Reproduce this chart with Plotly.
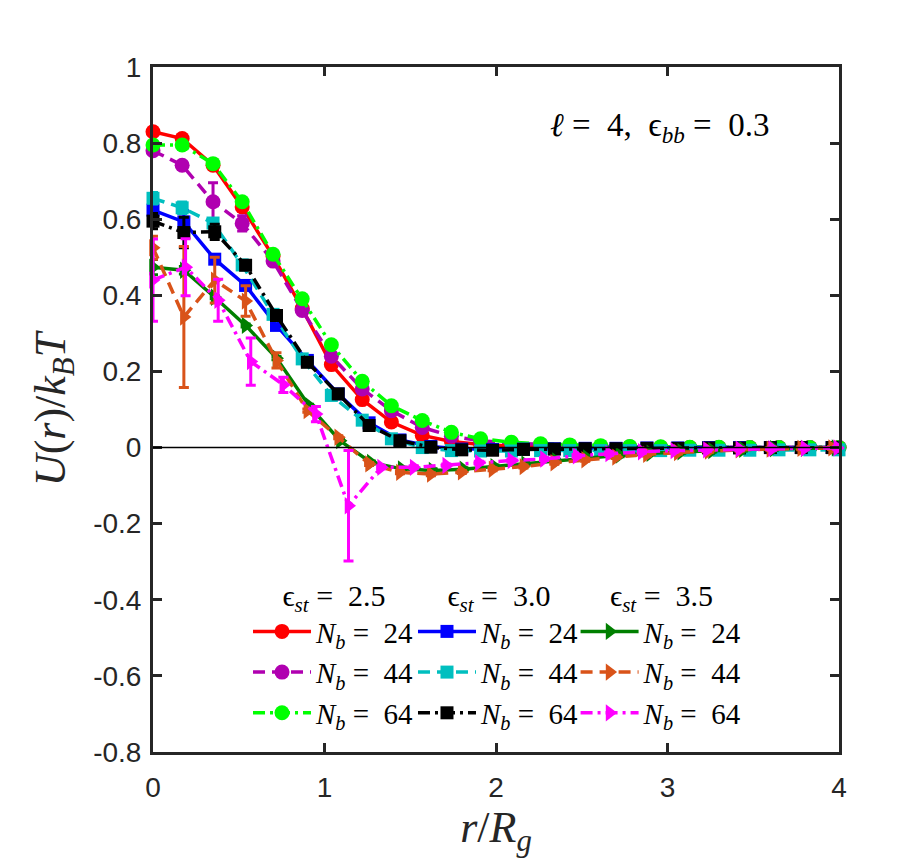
import plotly.graph_objects as go

# ---------------- data ----------------
X_A = [0, 0.17, 0.35, 0.52, 0.70, 0.87, 1.04, 1.22, 1.39, 1.57, 1.74, 1.91, 2.09, 2.26,
       2.43, 2.61, 2.78, 2.96, 3.13, 3.30, 3.48, 3.65, 3.83, 4.00]
X_B = [0, 0.18, 0.36, 0.54, 0.72, 0.90, 1.08, 1.26, 1.44, 1.62, 1.80, 1.98, 2.16, 2.34,
       2.52, 2.70, 2.88, 3.06, 3.24, 3.42, 3.60, 3.78, 3.96]
X_C = [0, 0.18, 0.36, 0.54, 0.72, 0.91, 1.09, 1.27, 1.45, 1.63, 1.81, 1.99, 2.17, 2.35,
       2.53, 2.72, 2.90, 3.08, 3.26, 3.44, 3.62, 3.80, 3.98]
X_D = [0, 0.19, 0.38, 0.57, 0.76, 0.95, 1.14, 1.33, 1.52, 1.71, 1.90, 2.09, 2.28, 2.47,
       2.66, 2.85, 3.04, 3.23, 3.42, 3.61, 3.80, 3.99]

# eps_st = 2.5
red_y = [0.830, 0.812, 0.742, 0.632, 0.503, 0.365, 0.218, 0.126, 0.067, 0.032, 0.016, 0.008,
         0.004, 0.002, 0.001, 0, 0, 0, 0, 0, 0, 0, 0, 0]
red_e = [0.01] + [0.004] * 23
purple_y = [0.780, 0.742, 0.646, 0.589, 0.490, 0.360, 0.240, 0.154, 0.097, 0.053, 0.030, 0.018,
            0.012, 0.008, 0.005, 0.003, 0.002, 0.001, 0, 0, 0, 0, 0, 0]
purple_e = [0.01, 0.01, 0.05, 0.02] + [0.004] * 20
lime_y = [0.795, 0.795, 0.746, 0.646, 0.508, 0.391, 0.270, 0.174, 0.110, 0.071, 0.040, 0.023,
          0.014, 0.010, 0.007, 0.005, 0.003, 0.002, 0.001, 0.001, 0, 0, 0, 0]
lime_e = [0.01] + [0.004] * 23

# eps_st = 3.0
blue_y = [0.624, 0.593, 0.495, 0.426, 0.321, 0.229, 0.141, 0.065, 0.020, 0.003, -0.004, -0.005,
          -0.004, -0.003, -0.002, -0.002, -0.001, -0.001, 0, 0, 0, 0, 0]
blue_e = [0.025, 0.03, 0.01] + [0.004] * 20
cyan_y = [0.655, 0.630, 0.590, 0.480, 0.350, 0.233, 0.137, 0.072, 0.023, 0.000, -0.008, -0.009,
          -0.009, -0.008, -0.008, -0.008, -0.008, -0.008, -0.007, -0.007, -0.007, -0.006, -0.006, -0.006]
cyan_e = [0.015, 0.015] + [0.004] * 22
black_y = [0.595, 0.565, 0.567, 0.479, 0.347, 0.224, 0.141, 0.058, 0.018, 0.001, -0.006, -0.007,
           -0.005, -0.004, -0.003, -0.003, -0.002, -0.002, -0.001, -0.001, 0, 0, 0]
black_e = [0.02, 0.04, 0.02] + [0.004] * 20

# eps_st = 3.5
dgreen_y = [0.474, 0.466, 0.395, 0.321, 0.235, 0.110, 0.018, -0.039, -0.056, -0.060, -0.057, -0.050,
            -0.043, -0.035, -0.027, -0.020, -0.015, -0.011, -0.008, -0.005, -0.003, -0.002, -0.001]
dgreen_e = [0.02, 0.01] + [0.004] * 21
orange_y = [0.525, 0.343, 0.440, 0.385, 0.229, 0.097, 0.027, -0.043, -0.065, -0.070, -0.064, -0.057,
            -0.050, -0.040, -0.032, -0.025, -0.018, -0.013, -0.009, -0.006, -0.004, -0.002, -0.001]
orange_e = [0.03, 0.185, 0.06, 0.04, 0.02] + [0.004] * 18
magenta_y = [0.440, 0.474, 0.387, 0.226, 0.165, 0.088, -0.153, -0.052, -0.052, -0.047, -0.040, -0.034,
             -0.030, -0.022, -0.016, -0.011, -0.008, -0.006, -0.004, -0.003, -0.002, -0.001]
magenta_e = [0.108, 0.075, 0.055, 0.062, 0.02, 0.02, 0.145] + [0.004] * 15

y_tickvals = [-0.8, -0.6, -0.4, -0.2, 0, 0.2, 0.4, 0.6, 0.8, 1]
y_ticktext = ["-0.8", "-0.6", "-0.4", "-0.2", "0", "0.2", "0.4", "0.6", "0.8", "1"]
x_tickvals = [0, 1, 2, 3, 4]
x_ticktext = ["0", "1", "2", "3", "4"]

series = [
    # x, y, err, color, dash, symbol, label, legend
    (X_A, red_y, red_e, "#FF0000", "solid", "circle", "24", "legend"),
    (X_A, purple_y, purple_e, "#B000B0", "dash", "circle", "44", "legend"),
    (X_A, lime_y, lime_e, "#00FF00", "dashdot", "circle", "64", "legend"),
    (X_B, blue_y, blue_e, "#0000FF", "solid", "square", "24", "legend2"),
    (X_A, cyan_y, cyan_e, "#00BFBF", "dash", "square", "44", "legend2"),
    (X_B, black_y, black_e, "#000000", "dashdot", "square", "64", "legend2"),
    (X_C, dgreen_y, dgreen_e, "#007F00", "solid", "triangle-right", "24", "legend3"),
    (X_B, orange_y, orange_e, "#D95319", "dash", "triangle-right", "44", "legend3"),
    (X_D, magenta_y, magenta_e, "#FF00FF", "dashdot", "triangle-right", "64", "legend3"),
]

SERIF = "Liberation Serif, DejaVu Serif, serif"
SANS = "Liberation Sans, Arial, sans-serif"
SP = "&nbsp;"

fig = go.Figure()
for x, y, e, col, dash, sym, lab, leg in series:
    dashpat = {"solid": "solid", "dash": "12px,7px", "dashdot": "12px,5px,3px,5px"}[dash]
    msize = 15 if sym != "square" else 13
    fig.add_trace(go.Scatter(
        x=x, y=y, mode="lines+markers",
        line=dict(color=col, width=3.5, dash=dashpat),
        marker=dict(symbol=sym, size=msize, color=col, line=dict(width=0)),
        error_y=dict(type="data", array=e, visible=True, color=col, thickness=3, width=5),
        name="<i>N</i><sub><i>b</i></sub>" + SP + "=" + SP + SP + lab,
        legend=leg, cliponaxis=False,
    ))

axis_common = dict(
    showline=True, linewidth=3, linecolor="#262626", mirror="ticks",
    ticks="inside", ticklen=9, tickwidth=3, tickcolor="#262626",
    showgrid=False, zeroline=False,
    tickfont=dict(family=SANS, size=28, color="#262626"),
)

fig.update_layout(
    width=905, height=865,
    margin=dict(l=153, r=66, t=67, b=113),
    paper_bgcolor="white", plot_bgcolor="white",
    xaxis=dict(range=[0, 4], tickvals=x_tickvals, ticktext=x_ticktext, ticklabelstandoff=8,
               title=dict(text="<i>r</i>/<i>R</i><sub><i>g</i></sub>",
                          font=dict(family=SERIF, size=44, color="#262626"), standoff=4),
               **axis_common),
    yaxis=dict(range=[-0.8, 1], tickvals=y_tickvals, ticktext=y_ticktext, ticklabelstandoff=3,
               title=dict(text="<i>U</i>(<i>r</i>)/<i>k</i><sub><i>B</i></sub><i>T</i>",
                          font=dict(family=SERIF, size=44, color="#262626"), standoff=14),
               **axis_common),
    shapes=[dict(type="line", xref="paper", yref="y", x0=0, x1=1, y0=0, y1=0,
                 line=dict(color="black", width=1.5), layer="above")],
    annotations=[dict(text="<i>ℓ</i>" + SP + "=" + SP + SP + "4," + SP + SP + "ϵ<sub><i>bb</i></sub>"
                      + SP + "=" + SP + SP + "0.3",
                      x=0.739, y=0.912, xanchor="center", yanchor="middle",
                      xref="paper", yref="paper", showarrow=False,
                      font=dict(family=SERIF, size=33, color="black"))],
)

leg_common = dict(
    bgcolor="rgba(0,0,0,0)", borderwidth=0, yanchor="top", xanchor="left",
    font=dict(family=SERIF, size=29, color="black"), itemwidth=58,
    tracegroupgap=0,
)
title_txt = "ϵ<sub><i>st</i></sub>" + SP + "=" + SP + SP
fig.update_layout(
    legend=dict(x=0.1385, y=0.270, title=dict(text=title_txt + "2.5", side="top center",
                font=dict(family=SERIF, size=30)), **leg_common),
    legend2=dict(x=0.379, y=0.270, title=dict(text=title_txt + "3.0", side="top center",
                 font=dict(family=SERIF, size=30)), **leg_common),
    legend3=dict(x=0.616, y=0.270, title=dict(text=title_txt + "3.5", side="top center",
                 font=dict(family=SERIF, size=30)), **leg_common),
)

fig.write_html("out.html")
